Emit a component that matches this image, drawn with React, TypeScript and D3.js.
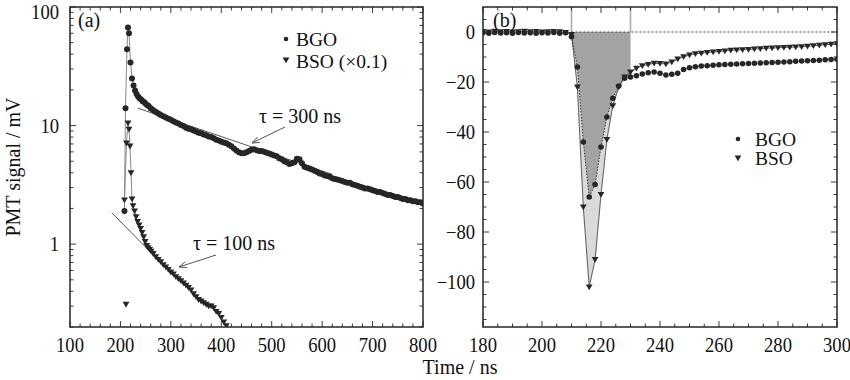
import React from 'react';
import * as d3 from 'd3';

const FONT = '"Liberation Serif", "Times New Roman", Times, serif';

// ---------------- Panel (a): long time scale, log y ----------------
const bgoTimeA = [208, 210, 213, 215, 217, 220, 223, 226, 229, 232, 235, 238, 241, 244, 247, 250, 253, 256, 260, 264, 268, 272, 276, 280, 285, 290, 295, 300, 305, 310, 315, 320, 325, 330, 335, 340, 345, 350, 355, 360, 365, 370, 375, 380, 385, 390, 395, 400, 405, 410, 415, 420, 425, 430, 435, 440, 445, 450, 455, 460, 465, 470, 475, 480, 485, 490, 495, 500, 505, 510, 515, 520, 525, 530, 535, 540, 545, 550, 555, 560, 565, 570, 575, 580, 585, 590, 595, 600, 605, 610, 615, 620, 625, 630, 635, 640, 645, 650, 655, 660, 665, 670, 675, 680, 685, 690, 695, 700, 705, 710, 715, 720, 725, 730, 735, 740, 745, 750, 755, 760, 765, 770, 775, 780, 785, 790, 795, 800];
const bgoSignalA = [1.9, 14, 44, 67, 60, 34, 25, 21.8, 19.8, 18.5, 17.6, 17.0, 16.6, 16.0, 15.8, 15.3, 14.9, 14.6, 14.0, 13.6, 13.2, 12.9, 12.6, 12.3, 12.0, 11.7, 11.4, 11.2, 10.9, 10.6, 10.4, 10.1, 9.9, 9.6, 9.4, 9.3, 9.1, 8.9, 8.7, 8.6, 8.4, 8.3, 8.1, 8.0, 7.8, 7.6, 7.5, 7.3, 7.2, 7.1, 6.9, 6.7, 6.4, 6.15, 5.95, 5.85, 5.85, 5.95, 6.1, 6.25, 6.3, 6.2, 6.1, 6.1, 6.0, 5.9, 5.8, 5.7, 5.6, 5.5, 5.3, 5.2, 5.0, 4.9, 4.75, 4.8, 4.9, 5.25, 5.2, 4.8, 4.5, 4.4, 4.35, 4.25, 4.15, 4.05, 3.95, 3.9, 3.8, 3.75, 3.7, 3.6, 3.55, 3.5, 3.45, 3.4, 3.35, 3.3, 3.3, 3.2, 3.15, 3.1, 3.05, 3.0, 2.95, 2.95, 2.9, 2.85, 2.8, 2.75, 2.75, 2.7, 2.65, 2.6, 2.6, 2.55, 2.5, 2.5, 2.45, 2.4, 2.4, 2.35, 2.35, 2.3, 2.3, 2.25, 2.25, 2.2];
const bsoTimeA = [208, 212, 215, 217, 219, 221, 223, 225, 228, 231, 234, 237, 240, 243, 246, 249, 252, 255, 258, 261, 265, 270, 275, 280, 285, 290, 295, 300, 305, 310, 315, 320, 325, 330, 335, 340, 345, 350, 355, 360, 365, 370, 375, 380, 385, 390, 395, 400, 405, 410];
const bsoSignalA = [2.35, 7.1, 10.5, 9.3, 6.7, 4.0, 2.4, 2.1, 1.9, 1.7, 1.55, 1.45, 1.35, 1.25, 1.15, 1.05, 0.97, 0.93, 0.9, 0.87, 0.83, 0.78, 0.74, 0.71, 0.67, 0.64, 0.61, 0.58, 0.56, 0.53, 0.51, 0.49, 0.47, 0.45, 0.43, 0.41, 0.38, 0.36, 0.34, 0.33, 0.32, 0.31, 0.3, 0.3, 0.29, 0.27, 0.26, 0.24, 0.22, 0.205];
const bsoLoneTimeA = [211];
const bsoLoneSignalA = [0.31];
const xTicksA = [100, 200, 300, 400, 500, 600, 700, 800];
const yTicksA = [1, 10, 100];
const yTickLabelsA = ['1', '10', '100'];
const yMinorA = [0.2, 0.3, 0.4, 0.5, 0.6, 0.7, 0.8, 0.9, 2, 3, 4, 5, 6, 7, 8, 9, 20, 30, 40, 50, 60, 70, 80, 90];

// exponential fits drawn over the data
const fitTau = [300, 100];
const fitStartTime = [235, 183];
const fitEndTime = [620, 300];
const fitStartValue = [14, 1.84];
const fitLabels = ['τ = 300 ns', 'τ = 100 ns'];

// ---------------- Panel (b): pulse shape, linear y ----------------
const timeB = [180, 182, 184, 186, 188, 190, 192, 194, 196, 198, 200, 202, 204, 206, 208, 210, 212, 214, 216, 218, 220, 222, 224, 226, 228, 230, 232, 234, 236, 238, 240, 242, 244, 246, 248, 250, 252, 254, 256, 258, 260, 262, 264, 266, 268, 270, 272, 274, 276, 278, 280, 282, 284, 286, 288, 290, 292, 294, 296, 298, 300];
const bgoSignalB = [-0.3, -0.5, -0.2, -0.4, -0.3, -0.5, -0.2, -0.4, -0.3, -0.5, -0.3, -0.4, -0.2, -0.5, -0.3, -1.9, -14, -44, -66, -61, -46, -34, -26.5, -21.6, -18.5, -18, -17.5, -16.8, -16.3, -16, -16.5, -17.2, -16.9, -16.5, -15, -14.3, -13.9, -13.6, -13.5, -13.3, -13.1, -13, -12.9, -12.8, -12.7, -12.6, -12.5, -12.4, -12.3, -12.2, -12.1, -12, -11.9, -11.7, -11.6, -11.5, -11.4, -11.3, -11.1, -11, -10.9];
const bsoSignalB = [0.2, 0, 0.3, 0.1, 0.2, 0, 0.1, 0.3, 0.1, 0.2, 0, 0.1, 0.2, 0.1, -0.2, -1, -22, -70, -102, -91, -65, -43, -29.5, -22, -18, -16, -14.5, -13.5, -13, -12.5, -12.6, -12.8, -12, -10.8, -9.9, -9.2, -8.7, -8.5, -8.2, -8, -7.8, -7.6, -7.3, -7.2, -7.1, -7, -6.8, -6.7, -6.5, -6.4, -6.3, -6.2, -6.1, -6, -5.9, -5.7, -5.5, -5.3, -5.1, -4.9, -4.7];
const gateB = [210, 230];
const xTicksB = [180, 200, 220, 240, 260, 280, 300];
const yTicksB = [0, -20, -40, -60, -80, -100];

const series = ['BGO', 'BSO'];

const INK = '#262626';
const TRI = 'M-3.4,-2.6L3.4,-2.6L0,3.2Z';

type Box = { x0: number; x1: number; y0: number; y1: number };

function Frame({ b, xMajor, xMinor, yMajor, yMinor, xs, ys }: any) {
  const lines: any[] = [];
  const M = 6, m = 3.5;
  xMajor.forEach((v: number, i: number) => {
    const x = xs(v);
    lines.push(<line key={'xb' + i} x1={x} x2={x} y1={b.y1} y2={b.y1 - M} />);
    lines.push(<line key={'xt' + i} x1={x} x2={x} y1={b.y0} y2={b.y0 + M} />);
  });
  xMinor.forEach((v: number, i: number) => {
    const x = xs(v);
    lines.push(<line key={'xbm' + i} x1={x} x2={x} y1={b.y1} y2={b.y1 - m} />);
    lines.push(<line key={'xtm' + i} x1={x} x2={x} y1={b.y0} y2={b.y0 + m} />);
  });
  yMajor.forEach((v: number, i: number) => {
    const y = ys(v);
    lines.push(<line key={'yl' + i} x1={b.x0} x2={b.x0 + M} y1={y} y2={y} />);
    lines.push(<line key={'yr' + i} x1={b.x1} x2={b.x1 - M} y1={y} y2={y} />);
  });
  yMinor.forEach((v: number, i: number) => {
    const y = ys(v);
    lines.push(<line key={'ylm' + i} x1={b.x0} x2={b.x0 + m} y1={y} y2={y} />);
    lines.push(<line key={'yrm' + i} x1={b.x1} x2={b.x1 - m} y1={y} y2={y} />);
  });
  return (
    <g stroke={INK} fill="none">
      <g strokeWidth={0.9}>{lines}</g>
      <rect x={b.x0} y={b.y0} width={b.x1 - b.x0} height={b.y1 - b.y0} strokeWidth={1.5} />
    </g>
  );
}

function Txt({ x, y, anchor = 'start', size = 20, sx = 1, children, rotate = 0 }: any) {
  return (
    <text
      transform={`translate(${x},${y}) rotate(${rotate}) scale(${sx},1)`}
      textAnchor={anchor}
      fontSize={size}
      fontFamily={FONT}
      fill="#111"
    >
      {children}
    </text>
  );
}

function Arrow({ x1, y1, x2, y2 }: any) {
  const ang = Math.atan2(y2 - y1, x2 - x1);
  const L = 8, a = 0.38;
  const p1 = [x2 - L * Math.cos(ang - a), y2 - L * Math.sin(ang - a)];
  const p2 = [x2 - L * Math.cos(ang + a), y2 - L * Math.sin(ang + a)];
  return (
    <g stroke="#555" strokeWidth={1} fill="none">
      <line x1={x1} y1={y1} x2={x2} y2={y2} />
      <polyline points={`${p1[0]},${p1[1]} ${x2},${y2} ${p2[0]},${p2[1]}`} />
    </g>
  );
}

export default function App() {
  const A: Box = { x0: 70, x1: 423, y0: 7, y1: 327 };
  const B: Box = { x0: 483, x1: 837, y0: 7, y1: 327 };

  const xA = d3.scaleLinear().domain([100, 800]).range([A.x0, A.x1]);
  const yA = d3.scaleLog().domain([0.2, 100]).range([A.y1, A.y0]);
  const xB = d3.scaleLinear().domain([180, 300]).range([B.x0, B.x1]);
  const yB = d3.scaleLinear().domain([-118, 10]).range([B.y1, B.y0]);

  const bgoA = bgoTimeA.map((t, i) => [t, bgoSignalA[i]] as [number, number]);
  const bsoA = bsoTimeA.map((t, i) => [t, bsoSignalA[i]] as [number, number]);
  const lineA = d3.line<[number, number]>().x(d => xA(d[0])).y(d => yA(d[1]));

  const bgoB = timeB.map((t, i) => [t, bgoSignalB[i]] as [number, number]);
  const bsoB = timeB.map((t, i) => [t, bsoSignalB[i]] as [number, number]);
  const lineB = d3.line<[number, number]>().x(d => xB(d[0])).y(d => yB(d[1]));
  const areaB = d3.area<[number, number]>().x(d => xB(d[0])).y0(yB(0)).y1(d => yB(d[1]));
  const inGate = (d: [number, number]) => d[0] >= gateB[0] && d[0] <= gateB[1];

  const fits = fitTau.map((tau, i) => {
    const t0 = fitStartTime[i], t1 = fitEndTime[i], v0 = fitStartValue[i];
    return [
      [t0, v0],
      [t1, v0 * Math.exp(-(t1 - t0) / tau)],
    ] as [number, number][];
  });

  const xMinorA = d3.range(100, 801, 20).filter(v => v % 100 !== 0);
  const xMinorB = d3.range(180, 301, 5).filter(v => v % 20 !== 0);
  const yMinorB = d3.range(-115, 10, 5).filter(v => v % 20 !== 0);

  return (
    <svg
      width={850}
      height={380}
      style={{ position: 'absolute', left: 0, top: 0, background: '#fff' }}
      xmlns="http://www.w3.org/2000/svg"
    >
      <rect width={850} height={380} fill="#fff" />
      <defs>
        <clipPath id="clipA">
          <rect x={A.x0} y={A.y0} width={A.x1 - A.x0} height={A.y1 - A.y0} />
        </clipPath>
        <clipPath id="clipB">
          <rect x={B.x0} y={B.y0} width={B.x1 - B.x0} height={B.y1 - B.y0} />
        </clipPath>
      </defs>

      {/* ---------- panel (a) ---------- */}
      <g clipPath="url(#clipA)">
        {fits.map((f, i) => (
          <path key={'fit' + i} d={lineA(f) || ''} stroke="#555" strokeWidth={1} fill="none" />
        ))}
        <path d={lineA(bgoA) || ''} stroke="#888" strokeWidth={1} fill="none" />
        <path d={lineA(bsoA) || ''} stroke="#888" strokeWidth={1} fill="none" />
        {bgoA.map((d, i) => (
          <circle key={'ba' + i} cx={xA(d[0])} cy={yA(d[1])} r={3} fill={INK} />
        ))}
        {bsoA.map((d, i) => (
          <path key={'sa' + i} d={TRI} transform={`translate(${xA(d[0])},${yA(d[1])})`} fill={INK} />
        ))}
        {bsoLoneTimeA.map((t, i) => (
          <path key={'sl' + i} d={TRI} transform={`translate(${xA(t)},${yA(bsoLoneSignalA[i])})`} fill={INK} />
        ))}
      </g>
      <Frame b={A} xs={xA} ys={yA} xMajor={xTicksA} xMinor={xMinorA} yMajor={yTicksA} yMinor={yMinorA} />
      {xTicksA.map(v => (
        <Txt key={'xla' + v} x={xA(v)} y={352} anchor="middle" sx={0.93}>{String(v)}</Txt>
      ))}
      {yTicksA.map((v, i) => (
        <Txt key={'yla' + v} x={59} y={Math.max(yA(v) + 7, 19)} anchor="end" sx={0.93}>{yTickLabelsA[i]}</Txt>
      ))}
      <Txt x={78} y={27}>(a)</Txt>

      {/* legend (a) */}
      <circle cx={286} cy={39} r={2.3} fill={INK} />
      <Txt x={296} y={46} size={19.5}>{series[0]}</Txt>
      <path d={TRI} transform="translate(286,60)" fill={INK} />
      <Txt x={296} y={68} size={19.5}>{series[1] + ' (×0.1)'}</Txt>

      {/* fit annotations */}
      <Txt x={259} y={123}>{fitLabels[0]}</Txt>
      <Arrow x1={285} y1={127} x2={252} y2={143} />
      <Txt x={193} y={250}>{fitLabels[1]}</Txt>
      <Arrow x1={216} y1={255} x2={179} y2={267} />

      {/* ---------- panel (b) ---------- */}
      <g clipPath="url(#clipB)">
        <path d={areaB(bsoB.filter(inGate)) || ''} fill="#dadada" stroke="none" />
        <path d={areaB(bgoB.filter(inGate)) || ''} fill="#a3a3a3" stroke="none" />
        {gateB.map((g, i) => (
          <line key={'gate' + i} x1={xB(g)} x2={xB(g)} y1={B.y0} y2={yB(0)} stroke="#aaa" strokeWidth={1.6} />
        ))}
        <line x1={xB(gateB[0])} x2={B.x1} y1={yB(0)} y2={yB(0)} stroke="#333" strokeWidth={0.9} strokeDasharray="2,2" />
        <path d={lineB(bsoB) || ''} stroke="#666" strokeWidth={1.1} fill="none" />
        <path d={lineB(bgoB) || ''} stroke="#333" strokeWidth={1} strokeDasharray="1.5,1.5" fill="none" />
        {bgoB.map((d, i) => (
          <circle key={'bb' + i} cx={xB(d[0])} cy={yB(d[1])} r={2.8} fill={INK} />
        ))}
        {bsoB.map((d, i) => (
          <path key={'sb' + i} d={TRI} transform={`translate(${xB(d[0])},${yB(d[1])})`} fill={INK} />
        ))}
      </g>
      <Frame b={B} xs={xB} ys={yB} xMajor={xTicksB} xMinor={xMinorB} yMajor={yTicksB} yMinor={yMinorB} />
      {xTicksB.map(v => (
        <Txt key={'xlb' + v} x={xB(v)} y={352} anchor="middle" sx={0.93}>{String(v)}</Txt>
      ))}
      {yTicksB.map(v => (
        <Txt key={'ylb' + v} x={475} y={yB(v) + 7} anchor="end" sx={0.93}>{v === 0 ? '0' : '−' + Math.abs(v)}</Txt>
      ))}
      <Txt x={493} y={27}>(b)</Txt>

      {/* legend (b) */}
      <circle cx={738} cy={139} r={2.3} fill={INK} />
      <Txt x={755} y={146} size={19.5}>{series[0]}</Txt>
      <path d={TRI} transform="translate(738,158)" fill={INK} />
      <Txt x={755} y={165} size={19.5}>{series[1]}</Txt>

      {/* axis titles */}
      <Txt x={460} y={374} anchor="middle">Time / ns</Txt>
      <Txt x={20} y={167} anchor="middle" rotate={-90}>PMT signal / mV</Txt>
    </svg>
  );
}
